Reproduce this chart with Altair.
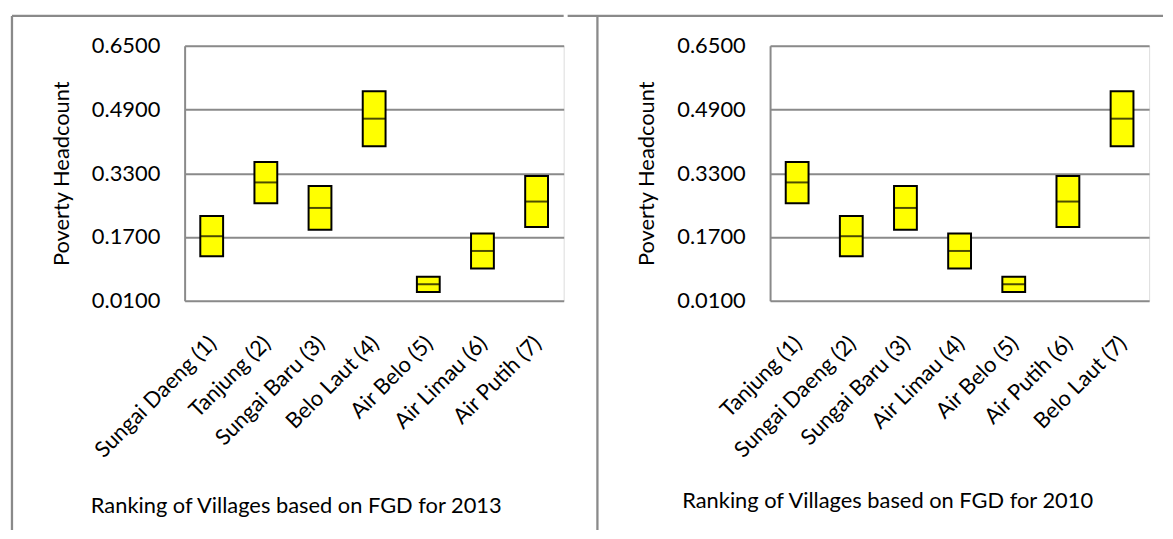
import altair as alt
import pandas as pd

# ---- data ----
villages_2013 = ["Sungai Daeng (1)", "Tanjung (2)", "Sungai Baru (3)", "Belo Laut (4)",
                 "Air Belo (5)", "Air Limau (6)", "Air Putih (7)"]
low_2013 = [0.122, 0.255, 0.188, 0.398, 0.032, 0.091, 0.195]
mid_2013 = [0.172, 0.307, 0.243, 0.467, 0.0515, 0.135, 0.259]
high_2013 = [0.223, 0.358, 0.298, 0.536, 0.0705, 0.179, 0.323]

villages_2010 = ["Tanjung (1)", "Sungai Daeng (2)", "Sungai Baru (3)", "Air Limau (4)",
                 "Air Belo (5)", "Air Putih (6)", "Belo Laut (7)"]
low_2010 = [0.255, 0.122, 0.188, 0.091, 0.032, 0.195, 0.398]
mid_2010 = [0.307, 0.172, 0.243, 0.135, 0.0515, 0.259, 0.467]
high_2010 = [0.358, 0.223, 0.298, 0.179, 0.0705, 0.323, 0.536]

y_ticks = [0.01, 0.17, 0.33, 0.49, 0.65]
y_title = "Poverty Headcount"
x_title_2013 = "Ranking of Villages based on FGD for 2013"
x_title_2010 = "Ranking of Villages based on FGD for 2010"

# ---- style ----
FONT = "Lato"
FS = 22
GRID = "#8a8a8a"
W, H = 382, 257
one = pd.DataFrame({"k": [0]})


def frame_rule(**enc):
    return alt.Chart(one).mark_rule(color=GRID, strokeWidth=2.3).encode(**enc)


def panel(villages, low, mid, high, xtitle, tx, ty, right):
    df = pd.DataFrame({"village": villages, "low": low, "mid": mid, "high": high})
    x = alt.X("village:N", sort=villages,
              scale=alt.Scale(paddingInner=0, paddingOuter=0),
              axis=alt.Axis(title=xtitle, labelAngle=-45, labelAlign="right",
                            labelBaseline="middle", labelPadding=39, labelOffset=1,
                            ticks=False, domain=False, labelFont=FONT, labelFontSize=FS,
                            labelColor="black", labelLimit=400,
                            titleFont=FONT, titleFontSize=FS, titleFontWeight="normal",
                            titleColor="black", titleX=tx, titleY=ty,
                            titleAlign="center", titleBaseline="alphabetic"))
    y = alt.Y("low:Q", scale=alt.Scale(domain=[0.01, 0.65], nice=False, zero=False),
              axis=alt.Axis(values=y_ticks, format=".4f", title=y_title, ticks=False,
                            domain=True, domainColor=GRID, domainWidth=2,
                            grid=True, gridColor=GRID, gridWidth=2,
                            labelPadding=25, labelFont=FONT, labelFontSize=FS,
                            labelColor="black",
                            titleFont=FONT, titleFontSize=FS, titleFontWeight="normal",
                            titleColor="black", titleX=-124, titleY=H / 2,
                            titleAngle=270, titleAlign="center",
                            titleBaseline="middle"))
    bars = alt.Chart(df).mark_bar(color="#FFFF00", stroke="black", strokeWidth=2,
                                  size=23).encode(x=x, y=y, y2="high:Q")
    mids = alt.Chart(df).mark_tick(color="black", size=23, thickness=2).encode(
        x=alt.X("village:N", sort=villages), y="mid:Q")
    left_line = frame_rule(x=alt.value(-174), y=alt.value(-30), y2=alt.value(488))
    if right:
        top_line = frame_rule(x=alt.value(-204), x2=alt.value(396), y=alt.value(-30))
    else:
        top_line = frame_rule(x=alt.value(-174), x2=alt.value(W), y=alt.value(-30))
    return alt.layer(bars, mids, left_line, top_line).properties(width=W, height=H)


left = panel(villages_2013, low_2013, mid_2013, high_2013, x_title_2013, 112, 213, False)
right = panel(villages_2010, low_2010, mid_2010, high_2010, x_title_2010, 118, 208, True)

chart = alt.hconcat(left, right, spacing=0).resolve_scale(x="independent").properties(
    padding={"left": 2, "top": 4, "right": 0, "bottom": 0}
).configure_view(stroke=None).configure(background="white")

chart.save("out.html", embed_options={"renderer": "svg", "actions": False})
